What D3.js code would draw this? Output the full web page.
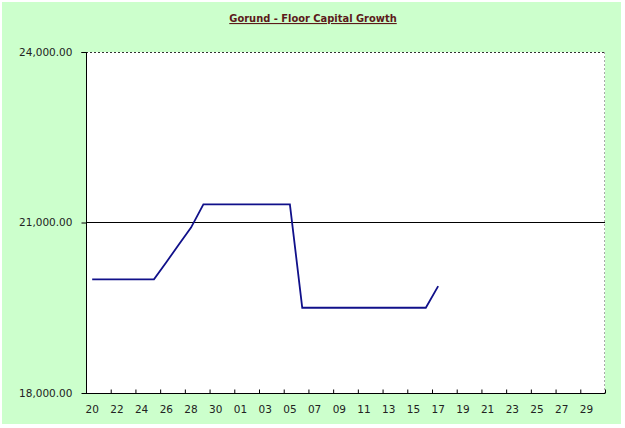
<!DOCTYPE html>
<html><head><meta charset="utf-8">
<script src="https://cdn.jsdelivr.net/npm/d3@7"></script>
<style>
html,body{margin:0;padding:0;background:#fff;}
text{font-family:"DejaVu Sans",Verdana,sans-serif;}
</style></head>
<body>
<svg id="chart" width="625" height="428"></svg>
<script>
const title = "Gorund - Floor Capital Growth";
const categories = ["20","21","22","23","24","25","26","27","28","29","30","31",
  "01","02","03","04","05","06","07","08","09","10","11","12","13","14","15","16","17",
  "18","19","20","21","22","23","24","25","26","27","28","29","30"];
const values = [20000,20000,20000,20000,20000,20000,20300,20610,20910,21320,21320,21320,
  21320,21320,21320,21320,21320,19500,19500,19500,19500,19500,19500,19500,19500,19500,19500,19500,19880,
  null,null,null,null,null,null,null,null,null,null,null,null,null];
const yTicks = [18000, 21000, 24000];

const svg = d3.select("#chart");
const m = {left: 86, right: 605, top: 52, bottom: 393};

svg.append("rect").attr("x",2).attr("y",2).attr("width",619).attr("height",422).attr("fill","#ccffcc");

svg.append("text").attr("x",313).attr("y",22).attr("text-anchor","middle")
  .attr("font-size",11).attr("font-weight","bold").attr("fill","#5c1a1a")
  .attr("text-decoration","underline").style("font-family","'DejaVu Sans Condensed','DejaVu Sans',sans-serif")
  .text(title);

const idx = categories.map((c,i)=>i);
const x = d3.scaleBand().domain(idx).range([m.left, m.right]).paddingInner(0).paddingOuter(0);
const y = d3.scaleLinear().domain([18000, 24000]).range([m.bottom, m.top]);

svg.append("rect").attr("x",m.left).attr("y",m.top).attr("width",m.right-m.left).attr("height",m.bottom-m.top).attr("fill","#fff");

svg.append("g").selectAll("line").data(yTicks.filter(t=>t>18000 && t<24000)).join("line")
  .attr("x1",m.left).attr("x2",m.right).attr("y1",d=>y(d)).attr("y2",d=>y(d))
  .attr("stroke","#000").attr("stroke-width",1).attr("shape-rendering","crispEdges");

svg.append("line").attr("x1",m.left).attr("x2",m.right).attr("y1",m.top+0.5).attr("y2",m.top+0.5)
  .attr("stroke","#333").attr("stroke-dasharray","2,2");
svg.append("line").attr("x1",m.right-0.5).attr("x2",m.right-0.5).attr("y1",m.top).attr("y2",m.bottom)
  .attr("stroke","#aaa").attr("stroke-dasharray","2,2");

const yAxis = d3.axisLeft(y).tickValues(yTicks).tickSize(5).tickPadding(9)
  .tickFormat(d3.format(",.2f"));
const gy = svg.append("g").attr("transform",`translate(${m.left+0.5},0)`).call(yAxis);
gy.select(".domain").attr("stroke","#000").attr("d",`M-5,${m.top+0.5}H0V${m.bottom+0.5}`);
gy.selectAll(".tick line").attr("stroke","#000");
gy.selectAll("text").attr("font-size",10.5).attr("fill","#222").style("font-family","'DejaVu Sans',sans-serif");

const gx = svg.append("g").attr("transform",`translate(0,${m.bottom+0.5})`);
gx.append("line").attr("x1",m.left).attr("x2",m.right).attr("stroke","#000");
const tickIdx = idx.filter(i=>i%2===0).concat([idx.length]);
gx.selectAll("line.tk").data(tickIdx).join("line").attr("class","tk")
  .attr("x1",i=> (i<idx.length? x(i): m.right)+0.5).attr("x2",i=>(i<idx.length? x(i): m.right)+0.5)
  .attr("y1",-4).attr("y2",0).attr("stroke","#000");
gx.selectAll("text").data(idx.filter(i=>i%2===0)).join("text")
  .attr("x",i=>x(i)+x.bandwidth()/2).attr("y",19).attr("text-anchor","middle")
  .attr("font-size",10.5).attr("fill","#222").text(i=>categories[i]);

const line = d3.line().defined(d=>d!=null).x((d,i)=>x(i)+x.bandwidth()/2).y(d=>y(d));
svg.append("path").datum(values).attr("d",line).attr("fill","none")
  .attr("stroke","#10108a").attr("stroke-width",1.8);
</script>
</body></html>
